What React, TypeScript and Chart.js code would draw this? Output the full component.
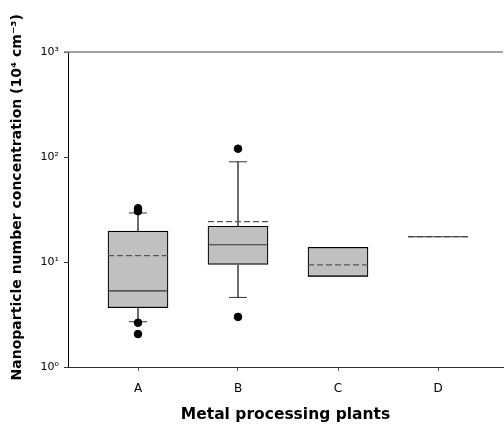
import React, { useEffect, useRef } from "react";
import { Chart, registerables } from "chart.js";

Chart.register(...registerables);

const categories = ["A", "B", "C", "D"];
const q1 = [3.67, 9.5, 7.3, 17.4];
const q3 = [19.7, 21.9, 13.8, 17.4];
const medians = [5.3, 14.6, 7.3, 17.4];
const means = [11.5, 24.2, 9.4, 17.4];
const whiskerLow: (number | null)[] = [2.7, 4.6, null, null];
const whiskerHigh: (number | null)[] = [29.3, 90, null, null];
const outliersA = [32.5, 30.5, 2.64, 2.06];
const outliersB = [120, 3.0];
const yTicks = [1, 10, 100, 1000];
const yTickLabels = ["10⁰", "10¹", "10²", "10³"];

const BOX_HALF = 0.3;
const CAP_HALF = 0.09;

function segs(vals: (number | null)[], half: number) {
  const out: any[] = [];
  vals.forEach((v, i) => {
    if (v == null) return;
    const x = i + 1;
    out.push({ x: x - half, y: v }, { x: x + half, y: v }, { x: x + 0.5, y: null });
  });
  return out;
}

export default function App() {
  const ref = useRef<HTMLCanvasElement>(null);
  useEffect(() => {
    const whiskerData: any[] = [];
    categories.forEach((_, i) => {
      const x = i + 1;
      if (whiskerLow[i] != null) {
        whiskerData.push({ x, y: whiskerLow[i] }, { x, y: q1[i] }, { x: x + 0.5, y: null });
      }
      if (whiskerHigh[i] != null) {
        whiskerData.push({ x, y: q3[i] }, { x, y: whiskerHigh[i] }, { x: x + 0.5, y: null });
      }
    });
    const capData = [...segs(whiskerLow, CAP_HALF), ...segs(whiskerHigh, CAP_HALF)];
    const outlierData = [
      ...outliersA.map((y) => ({ x: 1, y })),
      ...outliersB.map((y) => ({ x: 2, y })),
    ];

    const topLine = {
      id: "topLine",
      afterDraw(chart: any) {
        const { ctx, chartArea } = chart;
        ctx.save();
        ctx.strokeStyle = "#808080";
        ctx.lineWidth = 1.5;
        ctx.beginPath();
        ctx.moveTo(chartArea.left - 4, chartArea.top);
        ctx.lineTo(chartArea.right, chartArea.top);
        ctx.stroke();
        ctx.restore();
      },
    };

    const chart = new Chart(ref.current!, {
      type: "bar",
      data: {
        datasets: [
          {
            type: "bar",
            data: categories.map((_, i) => ({ x: i + 1, y: [q1[i], q3[i]] })) as any,
            backgroundColor: "#c0c0c0",
            borderColor: "#000",
            borderWidth: 1.2,
            borderSkipped: false,
            barThickness: 60,
            order: 4,
          } as any,
          {
            type: "line",
            data: whiskerData,
            borderColor: "#6a6a6a",
            borderWidth: 2,
            pointRadius: 0,
            spanGaps: false,
            order: 3,
          },
          {
            type: "line",
            data: capData,
            borderColor: "#333",
            borderWidth: 1,
            pointRadius: 0,
            spanGaps: false,
            order: 2,
          },
          {
            type: "line",
            data: segs(medians, BOX_HALF),
            borderColor: "#333",
            borderWidth: 1.2,
            pointRadius: 0,
            spanGaps: false,
            order: 1,
          },
          {
            type: "line",
            data: segs(means, BOX_HALF),
            borderColor: "#555",
            borderWidth: 1.2,
            borderDash: [6, 3],
            pointRadius: 0,
            spanGaps: false,
            order: 1,
          },
          {
            type: "scatter",
            data: outlierData,
            backgroundColor: "#000",
            borderColor: "#000",
            pointRadius: 3.8,
            order: 0,
          },
        ],
      },
      options: {
        animation: false,
        responsive: false,
        maintainAspectRatio: false,
        layout: { padding: { top: 52, right: 2, left: 0, bottom: 0 } },
        plugins: { legend: { display: false }, tooltip: { enabled: false } },
        scales: {
          x: {
            type: "linear",
            min: 0.3,
            max: 4.65,
            offset: false,
            afterBuildTicks: (s: any) => {
              s.ticks = categories.map((_, i) => ({ value: i + 1 }));
            },
            afterFit: (s: any) => {
              s.height = 61;
            },
            ticks: {
              callback: (v: any) => categories[Math.round(v) - 1] ?? "",
              color: "#000",
              font: { family: "DejaVu Sans", size: 12 },
              padding: 11,
              maxRotation: 0,
            },
            grid: { offset: false, drawOnChartArea: false, drawTicks: true, tickLength: 4, color: "#555" },
            border: { color: "#333", width: 1 },
            title: {
              display: true,
              text: "Metal processing plants",
              color: "#000",
              font: { family: "DejaVu Sans", size: 15.5, weight: "bold" },
              padding: { top: 10 },
            },
          },
          y: {
            type: "logarithmic",
            min: 1,
            max: 1000,
            afterBuildTicks: (s: any) => {
              s.ticks = yTicks.map((v) => ({ value: v }));
            },
            afterFit: (s: any) => {
              s.width = 68;
            },
            ticks: {
              callback: (v: any) => yTickLabels[yTicks.indexOf(Number(v))] ?? "",
              color: "#000",
              font: { family: "DejaVu Sans", size: 11 },
              padding: 5,
            },
            grid: { drawOnChartArea: false, drawTicks: true, tickLength: 4, color: "#333" },
            border: { color: "#000", width: 1 },
            title: {
              display: true,
              text: "     Nanoparticle number concentration (10⁴ cm⁻³)",
              color: "#000",
              font: { family: "DejaVu Sans", size: 14, weight: "bold" },
              padding: { top: 9, bottom: 4 },
            },
          },
        },
      },
      plugins: [topLine],
    });
    return () => chart.destroy();
  }, []);

  return (
    <div style={{ position: "fixed", left: 0, top: 0, width: 508, height: 428, background: "#fff" }}>
      <canvas ref={ref} width={508} height={428} style={{ display: "block" }} />
    </div>
  );
}
